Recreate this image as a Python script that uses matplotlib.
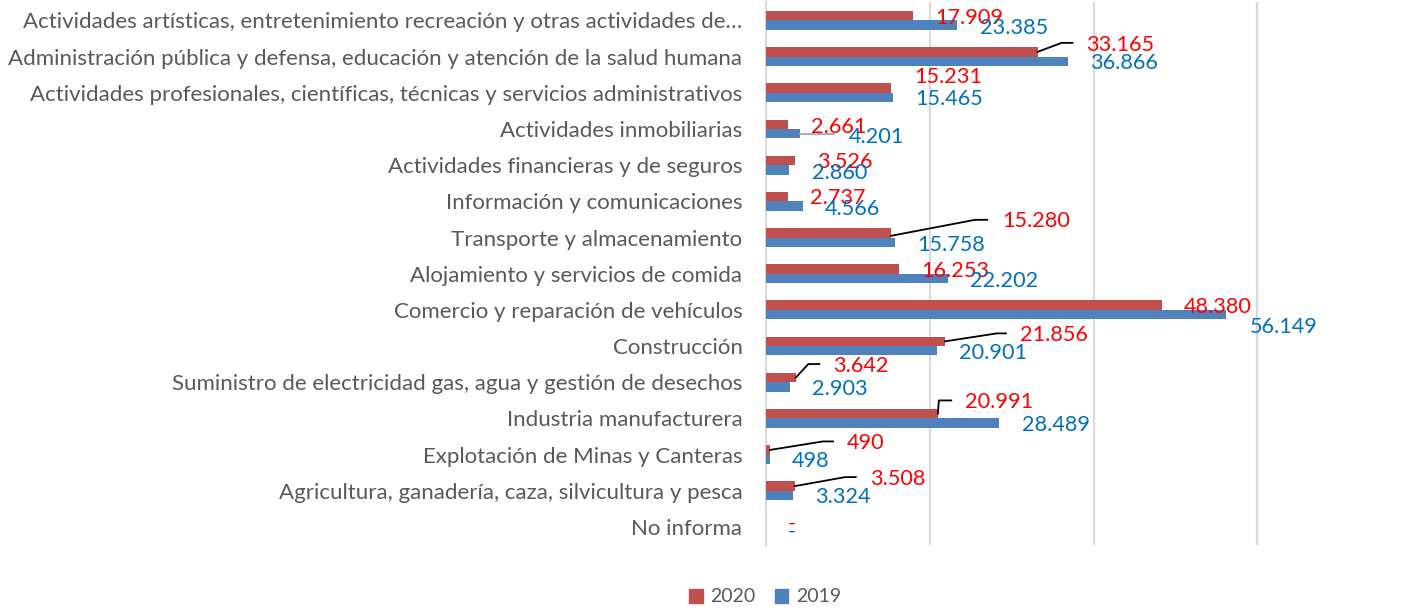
import matplotlib
matplotlib.use("Agg")
import matplotlib.pyplot as plt
from matplotlib.lines import Line2D
from matplotlib.patches import Patch

plt.rcParams['font.family'] = ['Lato', 'DejaVu Sans']

categories = [
    "Actividades artísticas, entretenimiento recreación y otras actividades de…",
    "Administración pública y defensa, educación y atención de la salud humana",
    "Actividades profesionales, científicas, técnicas y servicios administrativos",
    "Actividades inmobiliarias",
    "Actividades financieras y de seguros",
    "Información y comunicaciones",
    "Transporte y almacenamiento",
    "Alojamiento y servicios de comida",
    "Comercio y reparación de vehículos",
    "Construcción",
    "Suministro de electricidad gas, agua y gestión de desechos",
    "Industria manufacturera",
    "Explotación de Minas y Canteras",
    "Agricultura, ganadería, caza, silvicultura y pesca",
    "No informa",
]
values_2020 = [17909, 33165, 15231, 2661, 3526, 2737, 15280, 16253, 48380, 21856, 3642, 20991, 490, 3508, 0]
values_2019 = [23385, 36866, 15465, 4201, 2860, 4566, 15758, 22202, 56149, 20901, 2903, 28489, 498, 3324, 0]
series_names = ["2020", "2019"]

# label offsets in pixels (dx right, dy down) from bar end / bar centre
off_2020 = [(23, 2.5), (49, -7), (23, -11), (23, 2.5), (22.5, 2), (21.5, 1.5), (111, -12),
            (22, 2), (22, 2), (75, -6.5), (37.5, -11.5), (27.5, -11.5), (77, -7), (75.5, -7.5), (22, 1.5)]
off_2019 = [(22.5, 3), (22.5, 2), (22.5, 1.5), (48, 3), (22.5, 3), (21.5, 3), (22, 3),
            (22, 2.5), (24, 12), (22, 2), (22, 2), (22.5, 1.5), (21.5, 1.5), (21.5, 1), (22, 0)]
# leader lines: row -> list of (dx, dy) points (pixels) relative to bar end
leaders_2020 = {
    1: [(0, 0), (24, -9), (35, -9)],
    6: [(0, 3), (84, -13), (96, -13)],
    9: [(0, 0), (52, -8), (61, -8)],
    10: [(0, 0), (12.5, -13.5), (23.5, -13.5)],
    11: [(0, 0), (1, -13.3), (13.4, -13.3)],
    12: [(0, 0), (53, -8.5), (63, -8.5)],
    13: [(0, 0), (50.5, -9), (61, -9)],
}
leaders_2019 = {3: [(0, 0.5), (34, 0.5)]}

W, H = 1421, 608
fig = plt.figure(figsize=(W / 100, H / 100), dpi=100)
ax = fig.add_axes([766 / W, 1 - 545.1 / H, 655 / W, 542.8 / H])

n = len(categories)
y = list(range(n))
bh = 0.26
red, blue = '#C0504D', '#4F81BD'
ax.barh([v - bh / 2 for v in y], values_2020, height=bh, color=red, zorder=3, label=series_names[0])
ax.barh([v + bh / 2 for v in y], values_2019, height=bh, color=blue, zorder=3, label=series_names[1])

ax.set_xlim(0, 80000)
ax.set_ylim(n - 0.5, -0.5)
ax.set_xticks([20000, 40000, 60000])
ax.grid(axis='x', color='#D9D9D9', linewidth=1.6, zorder=0)
ax.tick_params(axis='x', length=0, labelbottom=False)
ax.set_yticks(y)
ax.set_yticklabels(categories, fontsize=16.0, color='#595959')
ax.tick_params(axis='y', length=0, pad=17)
for s in ['top', 'right', 'bottom']:
    ax.spines[s].set_visible(False)
ax.spines['left'].set_color('#D9D9D9')
ax.spines['left'].set_linewidth(1.6)


def fmt(v):
    return "-" if v == 0 else f"{v:,}".replace(",", ".")


def label(vals, offs, shift, color):
    for i, v in enumerate(vals):
        dx, dy = offs[i]
        ax.annotate(fmt(v), xy=(v, i + shift), xytext=(dx, -dy), textcoords='offset pixels',
                    ha='left', va='center', fontsize=15.6, color=color, zorder=5)


label(values_2020, off_2020, -bh / 2, '#FF0000')
label(values_2019, off_2019, bh / 2, '#0070C0')


def leaders(vals, lmap, shift, color):
    for i, pts in lmap.items():
        x0, y0 = ax.transData.transform((vals[i], i + shift))
        xs = [x0 + p[0] for p in pts]
        ys = [y0 - p[1] for p in pts]
        fig.add_artist(Line2D(xs, ys, transform=None, color=color, lw=1.3, zorder=6))


leaders(values_2020, leaders_2020, -bh / 2, 'black')
leaders(values_2019, leaders_2019, bh / 2, '#A6A6A6')

handles = [Patch(color=red), Patch(color=blue)]
leg = fig.legend(handles, series_names, loc='center', bbox_to_anchor=(765 / W, 1 - 597 / H), ncol=2,
                 frameon=False, handlelength=0.7, handleheight=0.7, handletextpad=0.38,
                 columnspacing=1.0, fontsize=14)
for t in leg.get_texts():
    t.set_color('#595959')

fig.savefig('out.png', dpi=100)
